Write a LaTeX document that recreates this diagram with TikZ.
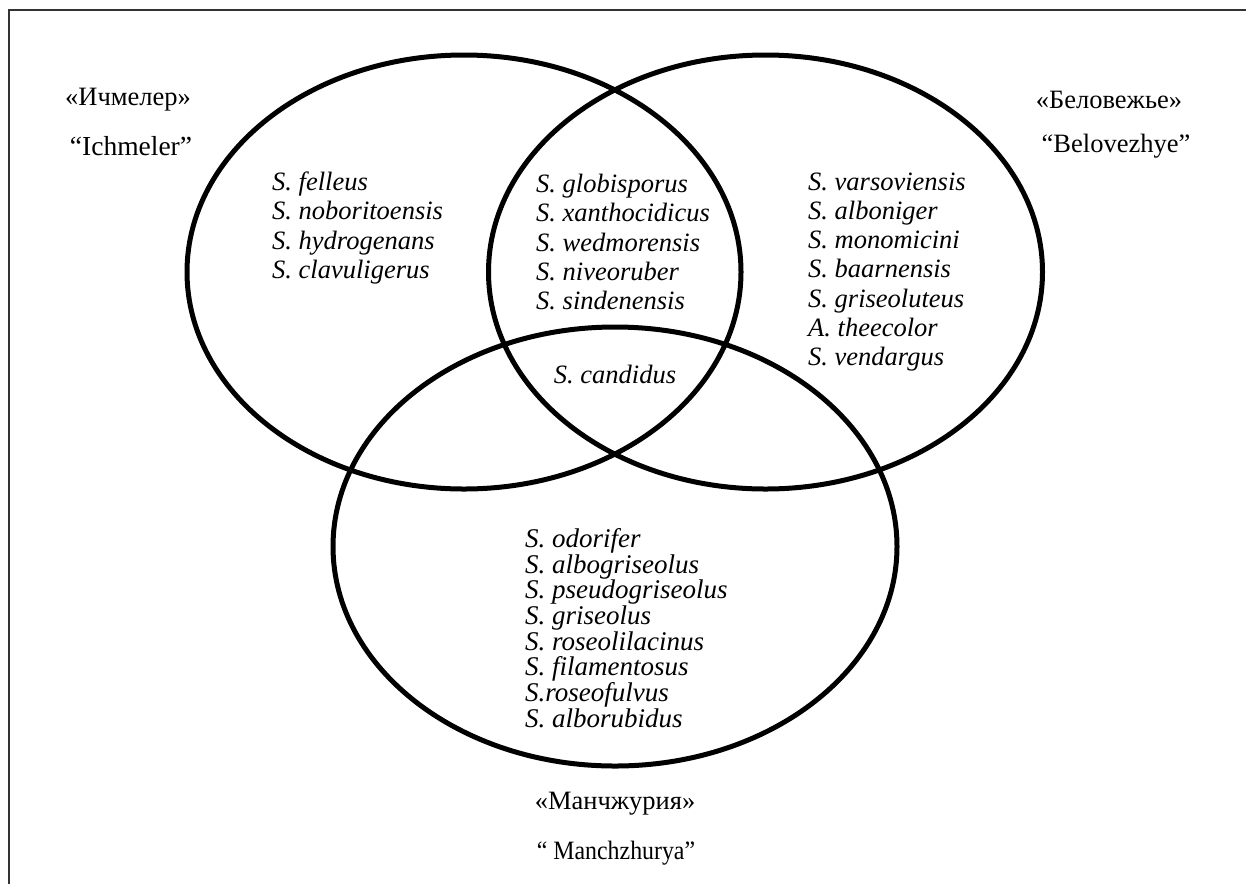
\documentclass[tikz,border=0pt]{standalone}
\usepackage{fontspec}
\setmainfont{Liberation Serif}
\begin{document}
\begin{tikzpicture}[x=1pt,y=-1pt,
  venn/.style={line width=5pt, draw=black},
  frameline/.style={line width=1.5pt, draw=black!80},
  species/.style={font=\fontsize{26.5}{29.3}\selectfont\itshape, align=left, inner sep=0pt, anchor=west},
  speciesb/.style={font=\fontsize{27}{25.7}\selectfont\itshape, align=left, inner sep=0pt, anchor=west},
  sitelabel/.style={font=\fontsize{26.5}{30}\selectfont, inner sep=0pt}]
\useasboundingbox (0,0) rectangle (1246,884);
% frame
\coordinate (fa) at (9,884);
\coordinate (fb) at (9,10);
\coordinate (fc) at (1246,10);
\draw[frameline] (fa) -- (fb) -- (fc);
% ellipses
\draw[venn] (464,272) ellipse [x radius=277pt, y radius=217pt];
\draw[venn] (765.5,272) ellipse [x radius=277pt, y radius=217pt];
\draw[venn] (615,546.5) ellipse [x radius=282pt, y radius=219.5pt];
% species lists
\node[species] (ich) at (272,228) {S. felleus\\S. noboritoensis\\S. hydrogenans\\S. clavuligerus};
\node[species] (mid) at (536,242) {S. globisporus\\S. xanthocidicus\\S. wedmorensis\\S. niveoruber\\S. sindenensis};
\node[species] (bel) at (808,272) {S. varsoviensis\\S. alboniger\\S. monomicini\\S. baarnensis\\S. griseoluteus\\A. theecolor\\S. vendargus};
\node[species, anchor=center] (cand) at (615,374) {S. candidus};
\node[speciesb] (man) at (525,628) {S. odorifer\\S. albogriseolus\\S. pseudogriseolus\\S. griseolus\\S. roseolilacinus\\S. filamentosus\\S.roseofulvus\\S. alborubidus};
% site labels
\node[sitelabel] (l1) at (128,100) {«Ичмелер»};
\node[sitelabel] (l2) at (131,146) {\fontsize{27.5}{30}\selectfont “Ichmeler”};
\node[sitelabel] (r1) at (1109,100) {«Беловежье»};
\node[sitelabel] (r2) at (1116,146) {“Belovezhye”};
\node[sitelabel] (b1) at (615,804) {«Манчжурия»};
\node[sitelabel] (b2) at (616,853) {\scalebox{0.9}[1]{“ Manchzhurya”}};
\end{tikzpicture}
\end{document}
